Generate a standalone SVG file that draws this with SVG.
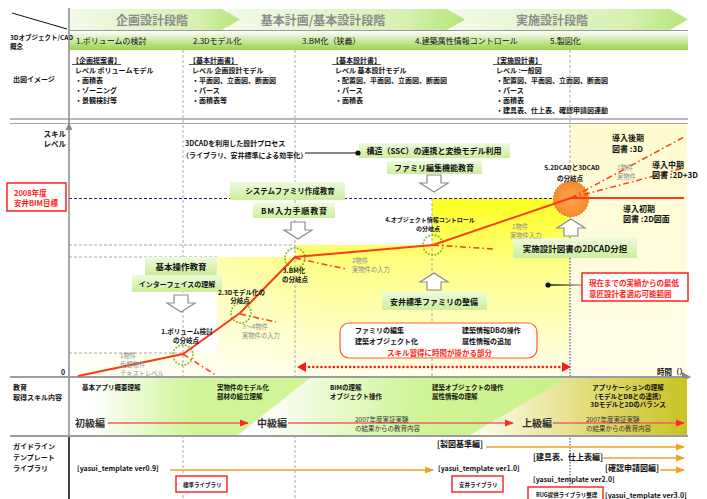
<svg xmlns="http://www.w3.org/2000/svg" width="707" height="499" viewBox="0 0 707 499">
<defs>
<style>
text{font-family:"Noto Sans CJK JP","Noto Sans",sans-serif;fill:#111;}
.b{font-weight:700;}
.s55{font-size:5.5px;}
.s6{font-size:6px;}
.s65{font-size:6.5px;}
.s7{font-size:7px;}
.s75{font-size:7.5px;}
.s8{font-size:8px;}
.gr{fill:#8a8a8a;font-size:6.3px;}
.red{fill:#ff1e1e;}
.ph{font-size:12px;font-weight:700;fill:#8c8c8c;text-anchor:middle;}
.lv{font-size:10px;font-weight:700;fill:#333;}
.m{text-anchor:middle;}
.r{text-anchor:end;}
.gb{fill:url(#gbox);}
.dash{stroke:#a8a8a8;stroke-width:1;stroke-dasharray:3,2;fill:none;}
.curve{stroke:#ff3b14;stroke-width:2;fill:none;}
.dd{stroke:#ff3b14;stroke-width:1.5;stroke-dasharray:6,3,1.5,3;fill:none;}
.gdot{fill:none;stroke:#84bd2e;stroke-width:2;stroke-dasharray:0.1,3.2;stroke-linecap:round;}
.or{stroke:#f5a01e;stroke-width:1.5;fill:none;marker-end:url(#mOr);}
.edu{stroke:#f06060;stroke-width:1.5;fill:none;marker-end:url(#mRed);}
.lib{fill:#fff;stroke:#ff2a2a;stroke-width:1.5;}
.arr{fill:#fff;stroke:#8c8c8c;stroke-width:1.2;}
.div{stroke:#9c9c9c;stroke-width:2;}
</style>
<linearGradient id="phase" x1="0" y1="0" x2="1" y2="0">
<stop offset="0" stop-color="#f3faea"/>
<stop offset="0.75" stop-color="#d6f0b2"/>
<stop offset="1" stop-color="#b5e67a"/>
</linearGradient>
<linearGradient id="bar" x1="0" y1="0" x2="0" y2="1">
<stop offset="0" stop-color="#ffffff"/>
<stop offset="1" stop-color="#98d44a"/>
</linearGradient>
<linearGradient id="gbox" x1="0" y1="0" x2="0" y2="1">
<stop offset="0" stop-color="#effadf"/>
<stop offset="1" stop-color="#cbef98"/>
</linearGradient>
<linearGradient id="yel" gradientUnits="userSpaceOnUse" x1="0" y1="198" x2="0" y2="376">
<stop offset="0" stop-color="#ffff1e"/>
<stop offset="0.4" stop-color="#ffff8a"/>
<stop offset="1" stop-color="#ffffea"/>
</linearGradient>
<linearGradient id="whfade" gradientUnits="userSpaceOnUse" x1="69" y1="0" x2="330" y2="0">
<stop offset="0" stop-color="#fff" stop-opacity="0.8"/>
<stop offset="1" stop-color="#fff" stop-opacity="0"/>
</linearGradient>
<linearGradient id="cream" x1="0" y1="0" x2="0" y2="1">
<stop offset="0" stop-color="#fffbcf"/>
<stop offset="1" stop-color="#fffdea"/>
</linearGradient>
<linearGradient id="e1" gradientUnits="userSpaceOnUse" x1="90" y1="0" x2="195" y2="0">
<stop offset="0" stop-color="#ffffff"/>
<stop offset="1" stop-color="#cff596"/>
</linearGradient>
<linearGradient id="e2" gradientUnits="userSpaceOnUse" x1="255" y1="0" x2="687" y2="0">
<stop offset="0" stop-color="#ffffff"/>
<stop offset="0.38" stop-color="#cff596"/>
<stop offset="1" stop-color="#c4ee80"/>
</linearGradient>
<linearGradient id="e3" gradientUnits="userSpaceOnUse" x1="485" y1="0" x2="687" y2="0">
<stop offset="0" stop-color="#fbfbe6"/>
<stop offset="0.5" stop-color="#e2dc7a"/>
<stop offset="1" stop-color="#c8c322"/>
</linearGradient>
<linearGradient id="ptr" gradientUnits="userSpaceOnUse" x1="548" y1="0" x2="582" y2="0">
<stop offset="0" stop-color="#111"/>
<stop offset="1" stop-color="#aaa"/>
</linearGradient>
<radialGradient id="orb" cx="0.5" cy="0.5" r="0.5">
<stop offset="0" stop-color="#ffa552"/>
<stop offset="1" stop-color="#f68b2c"/>
</radialGradient>
<marker id="mOr" viewBox="0 0 10 8" refX="9" refY="4" markerWidth="9" markerHeight="7.2" markerUnits="userSpaceOnUse" orient="auto">
<path d="M0,0 L10,4 L0,8 Z" fill="#f5a01e"/>
</marker>
<marker id="mRed" viewBox="0 0 10 8" refX="9" refY="4" markerWidth="9" markerHeight="7.2" markerUnits="userSpaceOnUse" orient="auto">
<path d="M0,0 L10,4 L0,8 Z" fill="#ff2a2a"/>
</marker>
<path id="dnArrow" class="arr" d="M-7,0 H7 V8 H14 L0,17 L-14,8 H-7 Z"/>
<path id="upArrow" class="arr" d="M-7,17 H7 V9 H14 L0,0 L-14,9 H-7 Z"/>
</defs>

<rect width="707" height="499" fill="#fff"/>

<!-- header phases -->
<g id="header">
<line x1="12" y1="13" x2="67" y2="29" stroke="#111" stroke-width="1"/>
<polygon points="453,9 670,9 688,19.5 670,30 453,30" fill="url(#phase)"/>
<polygon points="228,9 447,9 465,19.5 447,30 228,30" fill="url(#phase)"/>
<polygon points="70,9 222,9 240,19.5 222,30 70,30" fill="url(#phase)"/>
<text class="ph" x="152" y="24.5">企画設計段階</text>
<text class="ph" x="323" y="24.5">基本計画/基本設計段階</text>
<text class="ph" x="552" y="24.5">実施設計段階</text>
</g>

<!-- row 2 concept bar -->
<g id="concept-row">
<rect x="70" y="31" width="618" height="19" fill="url(#bar)"/>
<line x1="70" y1="30.5" x2="688" y2="30.5" stroke="#9a9a9a"/>
<text class="b s65" x="10" y="40">3Dオブジェクト/CAD</text>
<text class="b s65" x="10" y="49">概念</text>
<text class="s8" x="76" y="43.5">1.ボリュームの検討</text>
<text class="s8" x="193" y="43.5">2.3Dモデル化</text>
<text class="s8" x="302" y="43.5">3.BM化（狭義）</text>
<text class="s8" x="415" y="43.5">4.建築属性情報コントロール</text>
<text class="s8" x="550" y="43.5">5.製図化</text>
</g>

<!-- drawings row -->
<g id="drawings-row">
<text class="b s7" x="13" y="82">出図イメージ</text>
<g class="b s7">
<text x="72" y="63" text-decoration="underline">【企画提案書】</text>
<text x="75" y="72.5">レベル ボリュームモデル</text>
<text x="75" y="82.5">・面積表</text>
<text x="75" y="92.5">・ゾーニング</text>
<text x="75" y="102.5">・景観検討等</text>
<text x="189" y="63" text-decoration="underline">【基本計画書】</text>
<text x="192" y="72.5">レベル 企画設計モデル</text>
<text x="192" y="82.5">・平面図、立面図、断面図</text>
<text x="192" y="92.5">・パース</text>
<text x="192" y="102.5">・面積表等</text>
<text x="332" y="63" text-decoration="underline">【基本設計書】</text>
<text x="335" y="72.5">レベル 基本設計モデル</text>
<text x="335" y="82.5">・配置図、平面図、立面図、断面図</text>
<text x="335" y="92.5">・パース</text>
<text x="335" y="102.5">・面積表</text>
<text x="493" y="63" text-decoration="underline">【実施設計書】</text>
<text x="496" y="72.5">レベル :一般図</text>
<text x="496" y="82.5">・配置図、平面図、立面図、断面図</text>
<text x="496" y="92.5">・パース</text>
<text x="496" y="102.5">・面積表</text>
<text x="496" y="112.5">・建具表、仕上表、確認申請図連動</text>
</g>
<line x1="10" y1="119" x2="688" y2="119" stroke="#a0a0a0" stroke-width="1.5"/>
<line x1="10" y1="123.5" x2="688" y2="123.5" stroke="#a8a8a8" stroke-width="1"/>
</g>

<!-- chart backgrounds -->
<g id="chart-bg">
<rect x="570" y="124" width="117" height="252" fill="url(#cream)"/>
<polygon points="69,376 69,353 217,353 217,257 295,257 295,245 432,245 432,198 570,198 570,376" fill="url(#yel)"/>
<polygon points="69,376 69,353 217,353 217,257 295,257 295,245 432,245 432,198 570,198 570,376" fill="url(#whfade)"/>
</g>

<!-- grid lines -->
<g id="grid">
<line class="dash" x1="183" y1="50" x2="183" y2="499"/>
<line class="dash" x1="295" y1="50" x2="295" y2="499"/>
<line class="dash" x1="570" y1="50" x2="570" y2="216"/>
<line x1="570" y1="216" x2="570" y2="499" stroke="#2a2a9a" stroke-width="1" stroke-dasharray="1.5,1.5"/>
<line class="dash" x1="432" y1="198" x2="432" y2="376"/>
<line class="dash" x1="69" y1="245" x2="295" y2="245"/>
<line class="dash" x1="69" y1="257" x2="217" y2="257"/>
<line class="dash" x1="69" y1="353" x2="183" y2="353"/>
<line x1="69" y1="198.5" x2="570" y2="198.5" stroke="#1a1a8c" stroke-width="1" stroke-dasharray="3,2"/>
</g>

<!-- axes and section dividers -->
<g id="axes">
<line x1="69" y1="8" x2="69" y2="499" stroke="#888" stroke-width="1.5"/>
<line x1="69" y1="436" x2="69" y2="499" stroke="#222" stroke-width="1.5"/>
<polygon points="69,123 65.5,130 72.5,130" fill="#888"/>
<line class="div" x1="10" y1="377" x2="684" y2="377"/>
<line class="div" x1="10" y1="436" x2="688" y2="436"/>
<polygon points="682,372 691,377 682,382" fill="#888"/>
<text class="b s75 r" x="66" y="137">スキル</text>
<text class="b s75 r" x="66" y="147">レベル</text>
<text class="b s7" x="61" y="375">0</text>
<text class="b s75" x="657" y="375">時間（）</text>
</g>

<!-- target box -->
<g id="target-2008">
<rect x="7" y="183" width="59" height="28" fill="#fff" stroke="#ff2020" stroke-width="1.5"/>
<text class="b s75 red" x="14" y="195.5">2008年度</text>
<text class="b s75 red" x="14" y="206">安井BIM目標</text>
</g>

<!-- process note -->
<g id="process-note">
<text class="b s7" x="185" y="146">3DCADを利用した設計プロセス</text>
<text class="b s7" x="182" y="158">（ライブラリ、安井標準による効率化）</text>
</g>

<!-- green education boxes -->
<g id="box-ssc"><rect class="gb" x="359" y="143" width="151" height="15"/><text class="b s8 m" x="434" y="154">構造（SSC）の連携と変換モデル利用</text></g>
<g id="box-family-edit"><rect class="gb" x="387" y="161" width="95" height="13"/><text class="b s8 m" x="434" y="171">ファミリ編集機能教育</text></g>
<g id="box-system-family"><rect class="gb" x="230" y="182" width="115" height="18"/><text class="b s75 m" x="290" y="194">システムファミリ作成教育</text></g>
<g id="box-bm-input"><rect class="gb" x="253" y="203" width="82" height="15"/><text class="b s8 m" x="294" y="214" textLength="66" lengthAdjust="spacing">BM入力手順教育</text></g>
<g id="box-basic-op"><rect class="gb" x="145" y="257" width="72" height="18"/><text class="b m" style="font-size:8.5px" x="181" y="269.5">基本操作教育</text></g>
<g id="box-interface"><rect class="gb" x="132" y="275" width="90" height="17"/><text class="b s7 m" x="177" y="287">インターフェイスの理解</text></g>
<g id="box-yasui-family"><rect class="gb" x="382" y="292" width="105" height="18"/><text class="b s8 m" x="434" y="305">安井標準ファミリの整備</text></g>
<g id="box-2dcad"><rect class="gb" x="513" y="238" width="124" height="20"/><text class="b m" style="font-size:8.5px" x="575" y="251.5">実施設計図書の2DCAD分担</text></g>

<!-- hollow arrows -->
<g id="hollow-arrows">
<use href="#dnArrow" x="181" y="295"/>
<use href="#dnArrow" x="298" y="222"/>
<use href="#dnArrow" x="434" y="175"/>
<use href="#upArrow" x="434" y="273"/>
<use href="#upArrow" x="571" y="219"/>
</g>

<!-- skill curve connectors -->
<g id="connectors">
<line x1="305" y1="153" x2="358" y2="153" stroke="#111" stroke-width="1.2"/>
<circle cx="358" cy="153" r="2.6" fill="#111"/>
<line x1="548" y1="285" x2="582" y2="285" stroke="url(#ptr)" stroke-width="1.5"/>
<circle cx="548" cy="285" r="2.6" fill="#111"/>
<circle cx="571" cy="199" r="17.5" fill="url(#orb)" stroke="#e8701a" stroke-width="1.2" stroke-dasharray="1.5,1.5"/>
<circle class="gdot" cx="183" cy="355" r="10"/>
<circle class="gdot" cx="241" cy="313" r="10"/>
<circle class="gdot" cx="295" cy="258" r="10"/>
<circle class="gdot" cx="433" cy="245" r="10"/>
<line class="dd" x1="183" y1="354" x2="217" y2="376"/>
<line class="dd" x1="240" y1="314" x2="276" y2="322"/>
<line class="dd" x1="295" y1="258" x2="346" y2="269"/>
<line class="dd" x1="433" y1="245" x2="494" y2="249"/>
<line class="dd" x1="571" y1="198" x2="684" y2="137"/>
<line class="dd" x1="571" y1="198" x2="684" y2="168"/>
<polyline class="curve" points="78,376 183,354 240,313 295,257 433,245 571,198"/>
<line class="curve" x1="571" y1="198" x2="684" y2="198"/>
<line x1="305" y1="367" x2="563" y2="367" stroke="#ff1a1a" stroke-width="2.5" stroke-dasharray="0.1,4" stroke-linecap="round"/>
<polygon points="297,367 306,362 306,372" fill="#ff1a1a"/>
<polygon points="571,367 562,362 562,372" fill="#ff1a1a"/>
</g>

<!-- branch labels -->
<g id="branch-labels" class="b s65">
<text class="m" x="187" y="334">1.ボリューム検討</text>
<text class="m" x="186" y="343">の分岐点</text>
<text x="218" y="294.5">2.3Dモデル化の</text>
<text class="m" x="240" y="303">分岐点</text>
<text class="m" x="294" y="273">3.BM化</text>
<text class="m" x="295" y="282">の分岐点</text>
<text class="m s6" x="430" y="222">4.オブジェクト情報コントロール</text>
<text class="m s6" x="428" y="230.5">の分岐点</text>
<text class="m" x="572" y="170">5.2DCADと3DCAD</text>
<text class="m" x="570" y="180.5">の分岐点</text>
</g>

<!-- gray annotations -->
<g id="annotations">
<text class="gr" x="120" y="357.5">1物件</text>
<text class="gr" x="120" y="366.5">仮想物件</text>
<text class="gr" x="120" y="375.5">テキストレベル</text>
<text class="gr" x="242" y="328.5">3～4物件</text>
<text class="gr" x="242" y="337.5">実物件の入力</text>
<text class="gr" x="352" y="262.5">2物件</text>
<text class="gr" x="352" y="271.5">実物件の入力</text>
<text class="gr" x="512" y="229">1物件</text>
<text class="gr" x="510" y="238">実物件入力</text>
<text class="gr" x="617" y="170">1物件</text>
<text class="gr" x="617" y="179">実物件</text>
</g>

<!-- phase of introduction labels -->
<g id="intro-labels" class="b s8">
<text x="612" y="141">導入後期</text>
<text x="612" y="152">図書 :3D</text>
<text x="652" y="167.5">導入中期</text>
<text x="652" y="177.5">図書 :2D+3D</text>
<text x="623" y="211.5">導入初期</text>
<text x="623" y="221.5">図書 :2D図面</text>
</g>

<!-- red range box -->
<g id="range-box">
<rect x="582" y="273" width="106" height="28" fill="#fff" stroke="#ff2020" stroke-width="1.5"/>
<text class="b s75 red" x="589" y="285.5">現在までの実績からの最低</text>
<text class="b s75 red" x="589" y="297">意匠設計者適応可能範囲</text>
</g>

<!-- skill acquisition box -->
<g id="skill-box">
<rect x="340" y="323" width="197" height="35" rx="9" fill="#fff" stroke="#ff5c33" stroke-width="1.2"/>
<text class="b s7" x="355" y="333">ファミリの編集</text>
<text class="b s7" x="355" y="344">建築オブジェクト化</text>
<text class="b s7" x="462" y="333">建築情報DBの操作</text>
<text class="b s7" x="462" y="344">属性情報の追加</text>
<text class="b s75 red" x="387" y="356">スキル習得に時間が掛かる部分</text>
</g>

<!-- education row -->
<g id="education-row">
<rect x="70" y="378" width="617" height="57" fill="url(#e1)"/>
<polygon points="238,435 310,378 687,378 687,435" fill="url(#e2)"/>
<polygon points="470,435 567,378 687,378 687,435" fill="url(#e3)"/>
<text class="b s7" x="13" y="390">教育</text>
<text class="b s7" x="13" y="399.5">取得スキル内容</text>
<g class="b s65">
<text x="82" y="390">基本アプリ概要理解</text>
<text x="217" y="390">実物件のモデル化</text>
<text x="217" y="398.5">部材の組立理解</text>
<text x="330" y="390">BIMの理解</text>
<text x="330" y="398.5">オブジェクト操作</text>
<text x="432" y="390">建築オブジェクトの操作</text>
<text x="432" y="398.5">属性情報の理解</text>
<text class="m" x="628" y="390">アプリケーションの理解</text>
<text class="m" x="628" y="398.5">（モデルとDBとの連携）</text>
<text class="m" x="628" y="407">3Dモデルと2Dのバランス</text>
</g>
<line class="edu" x1="108" y1="423" x2="248" y2="423"/>
<line class="edu" x1="288" y1="423" x2="513" y2="423"/>
<line class="edu" x1="553" y1="423" x2="684" y2="423"/>
<text class="lv" x="75" y="427">初級編</text>
<text class="lv" x="257" y="427">中級編</text>
<text class="lv" x="522" y="427">上級編</text>
<text class="s65" x="355" y="422" style="fill:#333">2007年度実証実験</text>
<text class="s65" x="355" y="431" style="fill:#333">の結果からの教育内容</text>
<text class="s65" x="586" y="422" style="fill:#333">2007年度実証実験</text>
<text class="s65" x="586" y="431" style="fill:#333">の結果からの教育内容</text>
</g>

<!-- guideline row -->
<g id="guideline-row">
<text class="b s7" x="13" y="449">ガイドライン</text>
<text class="b s7" x="13" y="460">テンプレート</text>
<text class="b s7" x="13" y="470.5">ライブラリ</text>
<text class="b s7" x="77" y="471">[yasui_template ver0.9]</text>
<line class="or" x1="170" y1="470" x2="433" y2="470"/>
<text class="b s8" x="437" y="447">[製図基準編]</text>
<line class="or" x1="486" y1="447" x2="684" y2="447"/>
<text class="b s7" x="438" y="471">[yasui_template ver1.0]</text>
<text class="b s8" x="533" y="459.5">[建具表、仕上表編]</text>
<line class="or" x1="603" y1="458" x2="684" y2="458"/>
<text class="b s8" x="605" y="471">[確認申請図編]</text>
<line class="or" x1="660" y1="470" x2="684" y2="470"/>
<text class="b s7" x="533" y="482">[yasui_template ver2.0]</text>
<text class="b s7" x="605" y="498">[yasui_template ver3.0]</text>
</g>
<g id="lib-standard"><rect class="lib" x="176" y="476" width="51" height="16"/><text class="b s55" x="183" y="487">標準ライブラリ</text></g>
<g id="lib-yasui"><rect class="lib" x="452" y="476" width="51" height="16"/><text class="b s55" x="459" y="487">安井ライブラリ</text></g>
<g id="lib-rug"><rect class="lib" x="528" y="487" width="75" height="16"/><text class="b s55" x="536" y="497">RUG提供ライブラリ整理</text></g>
</svg>
